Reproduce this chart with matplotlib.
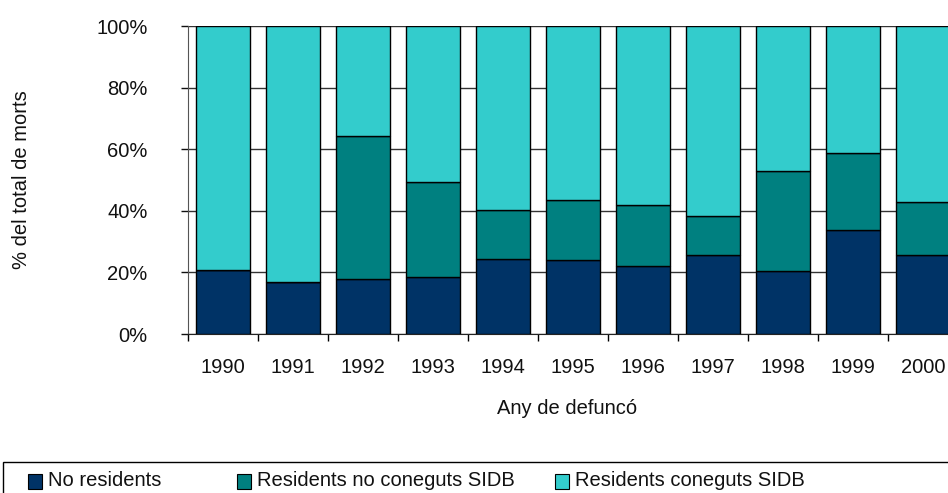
import matplotlib
matplotlib.use("Agg")
import matplotlib.pyplot as plt
from matplotlib.patches import Rectangle
import numpy as np

plt.rcParams['font.family'] = ['Liberation Sans', 'DejaVu Sans']

years = ['1990', '1991', '1992', '1993', '1994', '1995', '1996', '1997', '1998', '1999', '2000']
no_residents = [20.8, 16.8, 18.0, 18.5, 24.4, 24.0, 22.0, 25.5, 20.3, 33.8, 25.8]
residents_no_coneguts = [0.0, 0.0, 46.2, 30.7, 15.7, 19.5, 20.0, 12.9, 32.7, 25.1, 17.1]
residents_coneguts = [100 - a - b for a, b in zip(no_residents, residents_no_coneguts)]

series_names = ['No residents', 'Residents no coneguts SIDB', 'Residents coneguts SIDB']
series_colors = ['#003366', '#008080', '#33CCCC']

W, H = 948, 493
fig = plt.figure(figsize=(W / 100, H / 100), dpi=100)

# axes placed in pixel terms; the plot area runs past the right edge
ax_left, ax_right, ax_top, ax_bottom = 188, 958, 26, 334
ax = fig.add_axes([ax_left / W, 1 - ax_bottom / H,
                   (ax_right - ax_left) / W, (ax_bottom - ax_top) / H])

x = np.arange(len(years))
bottom = np.zeros(len(years))
for vals, name, col in zip([no_residents, residents_no_coneguts, residents_coneguts],
                           series_names, series_colors):
    vals = np.array(vals)
    ax.bar(x, vals, width=0.77, bottom=bottom, color=col, edgecolor='black',
           linewidth=1.0, label=name, zorder=3)
    bottom += vals

ax.set_xlim(-0.5, len(years) - 0.5)
ax.set_ylim(0, 100)
ax.set_yticks(np.arange(0, 101, 20))
ax.set_yticklabels([f'{v}%' for v in range(0, 101, 20)])
ax.yaxis.grid(True, color='#333333', linewidth=1.0, zorder=0)
ax.set_axisbelow(True)

ax.set_xticks(x)
ax.set_xticklabels(years)
ax.set_xticks(np.arange(-0.5, len(years), 1.0), minor=True)
ax.tick_params(axis='x', which='major', length=0, pad=17, labelsize=14.5, colors='#111111')
ax.tick_params(axis='x', which='minor', length=5, width=1, direction='out')
ax.tick_params(axis='y', length=5, width=1, direction='out', pad=24, labelsize=14.5,
               colors='#111111')

for s in ['top', 'right']:
    ax.spines[s].set_visible(False)
ax.spines['left'].set_color('#555555')
ax.spines['bottom'].set_color('#222222')

ax.set_xlabel('Any de defuncó', fontsize=14.5, color='#111111', va='center')
ax.xaxis.set_label_coords((567 - ax_left) / (ax_right - ax_left),
                          (ax_bottom - 409) / (ax_bottom - ax_top))
ax.set_ylabel('% del total de morts', fontsize=14.5, color='#111111', va='center')
ax.yaxis.set_label_coords((22 - ax_left) / (ax_right - ax_left), 0.5)

# legend frame running off the bottom/right edges
fig.patches.append(Rectangle((3 / W, -0.05), 1.2, 1 - 462 / H + 0.05,
                             transform=fig.transFigure, facecolor='white',
                             edgecolor='black', linewidth=1.0, clip_on=False))
entry_x = [28, 237, 555]
for ex, name, col in zip(entry_x, series_names, series_colors):
    fig.patches.append(Rectangle((ex / W, 1 - 489 / H), 14 / W, 15 / H,
                                 transform=fig.transFigure, facecolor=col,
                                 edgecolor='black', linewidth=0.8))
    fig.text((ex + 20) / W, 1 - 480 / H, name, fontsize=14.5, color='#111111',
             ha='left', va='center')

fig.savefig('out.png', dpi=100)
